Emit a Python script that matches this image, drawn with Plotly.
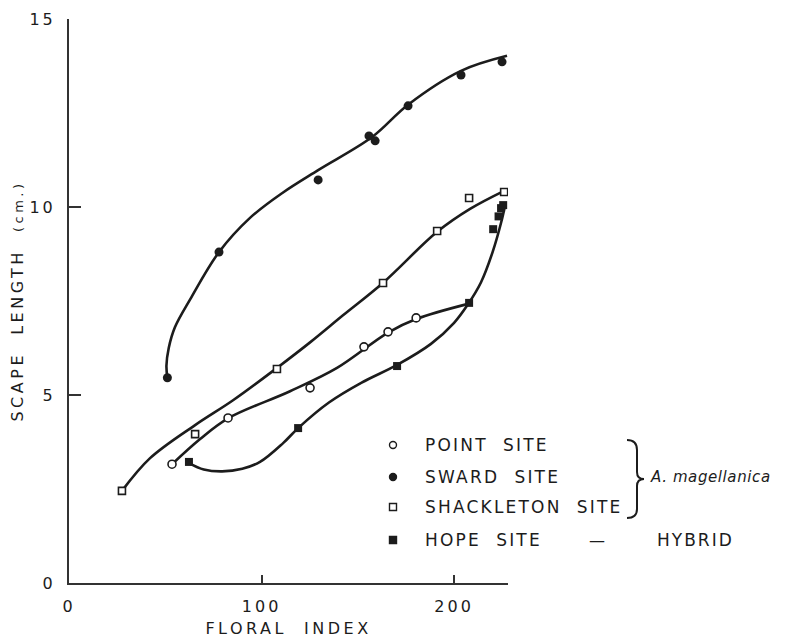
import plotly.graph_objects as go

# ---------------- data ----------------
# measured points
sward_x = [51.1, 77.9, 129.4, 155.8, 159.0, 176.1, 203.6, 224.9]
sward_y = [5.46, 8.80, 10.72, 11.89, 11.76, 12.69, 13.51, 13.86]

point_x = [53.5, 82.6, 125.2, 153.2, 165.7, 180.3]
point_y = [3.16, 4.39, 5.19, 6.28, 6.68, 7.05]

shack_x = [27.5, 65.5, 108.0, 163.1, 191.2, 207.8, 226.0]
shack_y = [2.45, 3.96, 5.69, 7.98, 9.36, 10.24, 10.40]

hope_x = [62.3, 119.0, 170.4, 207.8, 220.3, 223.1, 224.4, 225.5]
hope_y = [3.22, 4.12, 5.77, 7.45, 9.41, 9.75, 9.97, 10.05]

# hand-drawn fitted curves
sward_curve_x = [51.1, 50.6, 51.8, 55.0, 63.0, 77.9, 94.0, 111.0, 129.4,
                 157.4, 176.1, 203.6, 227.5]
sward_curve_y = [5.46, 5.78, 6.25, 6.80, 7.55, 8.80, 9.71, 10.38, 10.98,
                 11.86, 12.72, 13.62, 14.02]

shack_curve_x = [27.5, 42.1, 65.5, 85.2, 108.0, 125.2, 142.3, 163.0, 191.2,
                 208.3, 226.0]
shack_curve_y = [2.45, 3.32, 4.20, 4.86, 5.72, 6.40, 7.12, 7.98, 9.34,
                 9.95, 10.43]

point_curve_x = [53.5, 68.1, 82.6, 114.8, 139.2, 165.7, 180.3, 207.8]
point_curve_y = [3.16, 3.83, 4.38, 5.10, 5.72, 6.66, 7.02, 7.43]

hope_curve_x = [62.3, 70.0, 79.5, 90.0, 99.2, 111.2, 119.0, 135.0, 152.0,
                170.4, 188.0, 200.0, 207.3, 214.0, 220.0, 224.5, 226.5]
hope_curve_y = [3.19, 3.02, 2.97, 3.04, 3.22, 3.72, 4.12, 4.80, 5.33,
                5.80, 6.36, 6.92, 7.42, 8.00, 8.80, 9.60, 10.05]

x_ticks = [0, 100, 200]
y_ticks = [0, 5, 10, 15]

legend_labels = ["POINT\u00a0\u00a0SITE", "SWARD\u00a0\u00a0SITE",
                 "SHACKLETON\u00a0\u00a0SITE", "HOPE\u00a0\u00a0SITE"]
legend_symbols = ["circle-open", "circle", "square-open", "square"]
group_label = "A. magellanica"
hybrid_label = "HYBRID"

# ---------------- styling ----------------
INK = "#1c1c1c"
FONT = "DejaVu Sans"
LS = "letter-spacing:3px"

fig = go.Figure()

line_style = dict(color=INK, width=2.6, shape="spline", smoothing=1.0)
for cx, cy in [(sward_curve_x, sward_curve_y), (shack_curve_x, shack_curve_y),
               (point_curve_x, point_curve_y), (hope_curve_x, hope_curve_y)]:
    fig.add_trace(go.Scatter(x=cx, y=cy, mode="lines", line=line_style,
                             hoverinfo="skip", showlegend=False))

fig.add_trace(go.Scatter(x=sward_x, y=sward_y, mode="markers", showlegend=False,
                         marker=dict(symbol="circle", size=9, color=INK)))
fig.add_trace(go.Scatter(x=point_x, y=point_y, mode="markers", showlegend=False,
                         marker=dict(symbol="circle", size=8, color="white",
                                     line=dict(color=INK, width=1.6))))
fig.add_trace(go.Scatter(x=shack_x, y=shack_y, mode="markers", showlegend=False,
                         marker=dict(symbol="square", size=7, color="white",
                                     line=dict(color=INK, width=1.6))))
fig.add_trace(go.Scatter(x=hope_x, y=hope_y, mode="markers", showlegend=False,
                         marker=dict(symbol="square", size=8, color=INK)))

# legend key on an invisible pixel-scaled overlay axis (page pixel coords)
leg_x = [393] * 4
leg_y = [445, 477, 507, 540]
fig.add_trace(go.Scatter(x=leg_x, y=leg_y, xaxis="x2", yaxis="y2", mode="markers",
                         showlegend=False, hoverinfo="skip",
                         marker=dict(symbol=legend_symbols, size=7, color=INK,
                                     line=dict(color=INK, width=1.4))))

annotations = []
for lab, yy in zip(legend_labels, leg_y):
    annotations.append(dict(x=423, y=yy, xref="x2", yref="y2", xanchor="left",
                            yanchor="middle", showarrow=False,
                            text=f"<span style='letter-spacing:2.2px'>{lab}</span>",
                            font=dict(family=FONT, size=17, color=INK)))
annotations.append(dict(x=648, y=477, xref="x2", yref="y2", xanchor="left",
                        yanchor="middle", showarrow=False,
                        text=f"<i><span style='letter-spacing:0.6px'>{group_label}</span></i>",
                        font=dict(family=FONT, size=15, color=INK)))
annotations.append(dict(x=597, y=540, xref="x2", yref="y2", xanchor="center",
                        yanchor="middle", showarrow=False, text="\u2014",
                        font=dict(family=FONT, size=16, color=INK)))
annotations.append(dict(x=655, y=540, xref="x2", yref="y2", xanchor="left",
                        yanchor="middle", showarrow=False,
                        text=f"<span style='letter-spacing:2px'>{hybrid_label}</span>",
                        font=dict(family=FONT, size=17, color=INK)))

brace = ("M 627,440 Q 637,440 637,450 L 637,472 Q 637,479 644,479 "
         "Q 637,479 637,486 L 637,509 Q 637,518 627,518")

# the page body adds an 8px offset, so the figure is 784x630
fig.update_layout(
    width=784, height=630,
    margin=dict(l=61, r=10, t=11, b=55, autoexpand=False),
    paper_bgcolor="white", plot_bgcolor="rgba(0,0,0,0)",
    font=dict(family=FONT, color=INK),
    showlegend=False,
    annotations=annotations,
    shapes=[dict(type="path", path=brace, xref="x2", yref="y2",
                 line=dict(color=INK, width=2))],
    xaxis=dict(domain=[0, 0.6157], range=[0, 228], anchor="y", automargin=False,
               showgrid=False, zeroline=False, showline=True,
               linecolor="#333", linewidth=2, mirror=False,
               tickmode="array", tickvals=x_ticks,
               ticktext=[f"<span style='{LS}'>{v}</span>" for v in x_ticks],
               ticks="inside", ticklen=8, tickwidth=1.5, tickcolor="#333",
               ticklabelstandoff=8,
               tickfont=dict(family=FONT, size=16, color=INK),
               title=dict(text=f"<span style='letter-spacing:3.5px'>FLORAL\u00a0\u00a0INDEX</span>",
                          font=dict(family=FONT, size=16, color=INK), standoff=8)),
    yaxis=dict(domain=[0, 1], range=[0, 15], anchor="x", automargin=False,
               showgrid=False, zeroline=False, showline=True,
               linecolor="#333", linewidth=2,
               tickmode="array", tickvals=y_ticks,
               ticktext=[f"<span style='{LS}'>{v}</span>" for v in y_ticks],
               ticks="inside", ticklen=12, tickwidth=1.5, tickcolor="#333",
               ticklabelstandoff=8,
               tickfont=dict(family=FONT, size=16, color=INK),
               title=dict(text="<span style='letter-spacing:3.5px'>SCAPE\u00a0\u00a0LENGTH\u00a0\u00a0"
                               "<span style='font-size:13px'>(cm.)</span></span>",
                          font=dict(family=FONT, size=16, color=INK), standoff=6)),
    xaxis2=dict(domain=[0, 1], range=[69, 782], anchor="y2", visible=False,
                fixedrange=True, automargin=False),
    yaxis2=dict(domain=[0, 1], range=[583, 19], anchor="x2", visible=False,
                fixedrange=True, automargin=False),
)

fig.write_html("out.html")
